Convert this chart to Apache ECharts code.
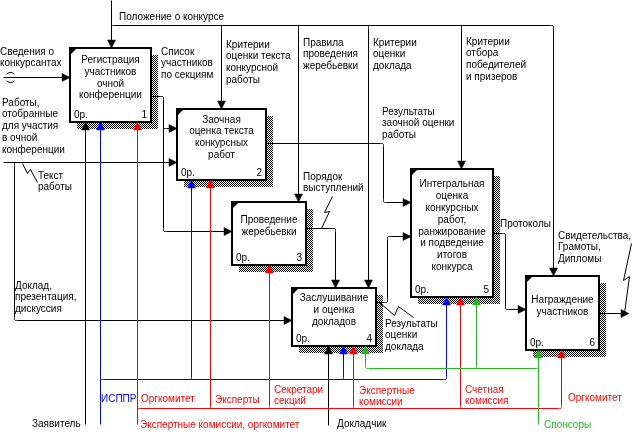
<!DOCTYPE html>
<html><head><meta charset="utf-8">
<script src="https://cdn.jsdelivr.net/npm/echarts@6/dist/echarts.min.js"></script>
<style>html,body{margin:0;padding:0;background:#fff}#c{width:637px;height:439px}</style>
</head><body><div id="c"></div>
<script>
// ---- Activities (IDEF0 boxes) ----
const activityTitles = [
  'Регистрация\nучастников\nочной\nконференции',
  'Заочная\nоценка текста\nконкурсных\nработ',
  'Проведение\nжеребьевки',
  'Заслушивание\nи оценка\nдокладов',
  'Интегральная\nоценка\nконкурсных\nработ,\nранжирование\nи подведение\nитогов\nконкурса',
  'Награждение\nучастников'
];
const activityNumbers = ['1','2','3','4','5','6'];
const activityCost = ['0р.','0р.','0р.','0р.','0р.','0р.'];
// frames: x1, y1, x2, y2 in diagram units
const activityFrames = [
  [70,48,151,122],
  [177,109,266,180],
  [232,202,306,265],
  [292,288,376,346],
  [411,169,493,297],
  [526,276,599,350]
];

// ---- Arrows: colour group, points, arrowhead, rounded ----
const flowGroups = ['k','k','k','k','k','k','k','k','k','k','k','k','k','k','k','k','k','k','k','k','k','k',
  'b','b','b','b','r','r','r','r','r','r','g','g','g'];
const flowPoints = [
  [[111,0],[111,48]],
  [[111,19],[111,25],[553,25],[553,276]],
  [[216,25],[221,25],[221,109]],
  [[293,25],[298,25],[298,202]],
  [[363,25],[368,25],[368,288]],
  [[456,25],[461,25],[461,169]],
  [[3,77],[70,77]],
  [[3,162],[177,162]],
  [[9,162],[14,162],[14,320],[292,320]],
  [[22,163],[27,173],[30,169],[37,182]],
  [[151,96],[163,96],[163,231],[232,231]],
  [[163,123],[163,128],[177,128]],
  [[266,143],[383,143],[383,202],[411,202]],
  [[306,228],[335,228],[335,288]],
  [[332,196],[324,212],[329,211],[321,228]],
  [[376,302],[387,302],[387,236],[411,236]],
  [[379,302],[394,315],[398,306],[413,317]],
  [[493,233],[505,233],[505,309],[526,309]],
  [[599,313],[629,313]],
  [[631,243],[623,280],[629,276],[624,313]],
  [[85,424],[85,122]],
  [[328,425],[328,346]],
  [[100,424],[100,122]],
  [[100,384],[100,379],[446,379],[446,297]],
  [[186,379],[191,379],[191,180]],
  [[338,379],[343,379],[343,346]],
  [[137,424],[137,122]],
  [[137,413],[137,408],[561,408],[561,350]],
  [[205,408],[210,408],[210,180]],
  [[264,408],[269,408],[269,265]],
  [[348,408],[353,408],[353,346]],
  [[455,408],[460,408],[460,297]],
  [[538,424],[538,350]],
  [[538,373],[538,368],[365,368],[365,346]],
  [[481,368],[476,368],[476,297]]
];
const flowHeads = [1,1,1,1,1,1,1,1,1,0,1,1,1,1,0,1,0,1,1,0,1,1,1,1,1,1,1,1,1,1,1,1,1,1,1];
const flowRounded = [1,1,1,1,1,1,1,1,1,0,1,1,1,1,0,1,0,1,1,0,1,1,1,1,1,1,1,1,1,1,1,1,1,1,1];
const tunnelAt = [[10,77]];

// ---- Arrow labels ----
const labelTexts = [
  'Положение о конкурсе','Сведения о\nконкурсантах',
  'Работы,\nотобранные\nдля участия\nв очной\nконференции',
  'Текст\nработы','Доклад,\nпрезентация,\nдискуссия','Список\nучастников\nпо секциям',
  'Критерии\nоценки текста\nконкурсной\nработы','Правила\nпроведения\nжеребьевки',
  'Критерии\nоценки\nдоклада','Критерии\nотбора\nпобедителей\nи призеров',
  'Результаты\nзаочной оценки\nработы','Порядок\nвыступлений','Результаты\nоценки\nдоклада',
  'Протоколы','Свидетельства,\nГрамоты,\nДипломы','Заявитель','ИСППР','Оргкомитет','Эксперты',
  'Секретари\nсекций','Экспертные комиссии, оргкомитет','Экспертные\nкомиссии','Счетная\nкомиссия',
  'Оргкомитет','Докладчик','Спонсоры'
];
const labelAnchors = [
  [119,11],[0,46],[2,97],[38,170],[15,280],[161,46],[226,39],[303,37],[373,37],[466,36],
  [382,106],[303,171],[385,318],[500,218],[558,230],[32,418],[101,393],[141,393],[215,394],
  [274,384],[140,419],[359,385],[465,384],[568,392],[337,418],[544,419]
];
const labelGroups = ['k','k','k','k','k','k','k','k','k','k','k','k','k','k','k','k','b','r','r',
  'r','r','r','r','r','k','g'];

// ---- styles ----
const palette = {k:'#000000', b:'#0000ff', r:'#ff0000', g:'#22bb22'};
const FONT = '10px "Liberation Sans", Arial, sans-serif';
const LH = 11.8;

const pc = document.createElement('canvas');
pc.width = 2; pc.height = 2;
const pctx = pc.getContext('2d');
pctx.fillStyle = '#fff'; pctx.fillRect(0,0,2,2);
pctx.fillStyle = '#000'; pctx.fillRect(0,0,1,1); pctx.fillRect(1,1,1,1);
const hatch = {image: pc, repeat: 'repeat'};

function roundPts(pts, r) {
  if (pts.length < 3 || !r) return pts;
  const out = [pts[0]];
  for (let i = 1; i < pts.length - 1; i++) {
    const a = pts[i-1], b = pts[i], c = pts[i+1];
    const d1 = Math.hypot(b[0]-a[0], b[1]-a[1]), d2 = Math.hypot(c[0]-b[0], c[1]-b[1]);
    const rr = Math.min(r, d1/2, d2/2);
    const p = [b[0] - (b[0]-a[0])/d1*rr, b[1] - (b[1]-a[1])/d1*rr];
    const q = [b[0] + (c[0]-b[0])/d2*rr, b[1] + (c[1]-b[1])/d2*rr];
    for (let k = 0; k <= 5; k++) {
      const t = k/5;
      out.push([(1-t)*(1-t)*p[0] + 2*t*(1-t)*b[0] + t*t*q[0], (1-t)*(1-t)*p[1] + 2*t*(1-t)*b[1] + t*t*q[1]]);
    }
  }
  out.push(pts[pts.length-1]);
  return out;
}
const crisp = v => Math.round(v) + 0.5;

const chart = echarts.init(document.getElementById('c'), null, {renderer:'canvas'});
chart.setOption({
  animation: false,
  grid: {left:0, right:0, top:0, bottom:0},
  xAxis: {type:'value', min:0, max:637, show:false},
  yAxis: {type:'value', min:0, max:439, inverse:true, show:false},
  series: [
    {
      type:'custom', z:1, clip:false,
      data: activityFrames.map(f => [f[0], f[1]]),
      renderItem: function(params, api) {
        const i = params.dataIndex, f = activityFrames[i];
        const p1 = api.coord([f[0], f[1]]), p2 = api.coord([f[2], f[3]]);
        const w = p2[0]-p1[0], h = p2[1]-p1[1];
        const cx = (p1[0]+p2[0])/2;
        const cy = (p1[1] + p2[1] - 14)/2;
        return {type:'group', children:[
          {type:'rect', shape:{x:p1[0]+7, y:p1[1]+7, width:w, height:h}, style:{fill:hatch}},
          {type:'rect', shape:{x:p1[0], y:p1[1], width:w, height:h}, style:{fill:'#fff', stroke:'#000', lineWidth:2}},
          {type:'polygon', shape:{points:[[p1[0],p1[1]],[p1[0]+7,p1[1]],[p1[0],p1[1]+7]]}, style:{fill:'#000'}},
          {type:'text', style:{text:activityTitles[i], x:cx, y:cy, align:'center', verticalAlign:'middle', font:FONT, lineHeight:LH, fill:'#000'}},
          {type:'text', style:{text:activityCost[i], x:p1[0]+4, y:p2[1]-7, align:'left', verticalAlign:'middle', font:FONT, fill:'#000'}},
          {type:'text', style:{text:activityNumbers[i], x:p2[0]-4, y:p2[1]-7, align:'right', verticalAlign:'middle', font:FONT, fill:'#000'}}
        ]};
      }
    },
    {
      type:'custom', z:2, clip:false,
      data: flowPoints.map(p => p[0]),
      renderItem: function(params, api) {
        const i = params.dataIndex;
        const col = palette[flowGroups[i]];
        let pts = flowPoints[i].map(p => api.coord(p));
        const children = [];
        if (flowHeads[i]) {
          const P = pts[pts.length-1], Q = pts[pts.length-2];
          const d = Math.hypot(P[0]-Q[0], P[1]-Q[1]);
          const ux = (P[0]-Q[0])/d, uy = (P[1]-Q[1])/d;
          const L = 8, W = 4;
          const Px = crisp(P[0]) - (ux ? 0 : 0), Py = crisp(P[1]);
          const tx = Math.abs(ux) > 0.5 ? P[0] : Px, ty = Math.abs(uy) > 0.5 ? P[1] : Py;
          const bx = tx-ux*L, by = ty-uy*L;
          children.push({type:'polygon', z2:2, shape:{points:[[tx,ty],[bx-uy*W,by+ux*W],[bx+uy*W,by-ux*W]]}, style:{fill:col, stroke:col, lineWidth:0.5}});
          pts = pts.slice(0, -1).concat([[P[0]-ux*(L-1), P[1]-uy*(L-1)]]);
        }
        let line = flowRounded[i] ? roundPts(pts, 3) : pts;
        line = line.map(p => [crisp(p[0]), crisp(p[1])]);
        children.push({type:'polyline', shape:{points:line}, style:{stroke:col, fill:null, lineWidth:1}});
        if (i === 6) {
          tunnelAt.forEach(t => {
            const c = api.coord(t);
            children.push({type:'arc', shape:{cx:c[0]+0.5, cy:c[1]+0.5, r:5, startAngle:Math.PI+0.7, endAngle:2*Math.PI-0.7, clockwise:true}, style:{stroke:'#000', fill:null, lineWidth:1}});
            children.push({type:'arc', shape:{cx:c[0]+0.5, cy:c[1]+0.5, r:5, startAngle:0.7, endAngle:Math.PI-0.7, clockwise:true}, style:{stroke:'#000', fill:null, lineWidth:1}});
          });
        }
        return {type:'group', children};
      }
    },
    {
      type:'custom', z:3, clip:false,
      data: labelAnchors.map(a => a.slice()),
      renderItem: function(params, api) {
        const i = params.dataIndex;
        const p = api.coord(labelAnchors[i]);
        return {type:'text', style:{text:labelTexts[i], x:p[0], y:p[1], align:'left', verticalAlign:'top', font:FONT, lineHeight:LH, fill:palette[labelGroups[i]]}};
      }
    }
  ]
});
</script>
</body></html>
